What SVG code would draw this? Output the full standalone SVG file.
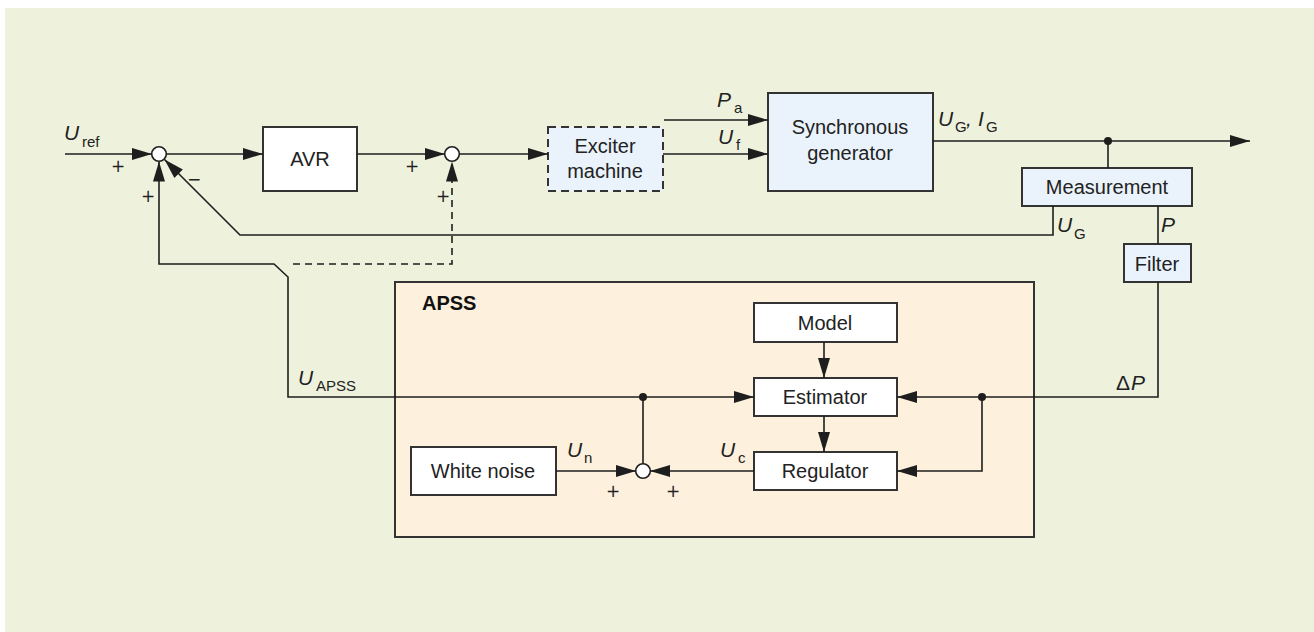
<svg xmlns="http://www.w3.org/2000/svg" width="1314" height="632" viewBox="0 0 1314 632">
  <defs>
    <marker id="arr" markerUnits="userSpaceOnUse" markerWidth="20" markerHeight="12" refX="20" refY="6" orient="auto">
      <path d="M0,0 L20,6 L0,12 z" fill="#1e1e1e"/>
    </marker>
    <style>
      .box { fill: #ffffff; stroke: #333333; stroke-width: 2; }
      .blue { fill: #eaf3fb; }
      .dash { stroke-dasharray: 8 5; }
      .apss { fill: #fdf0dc; stroke: #333333; stroke-width: 2; }
      .wire { fill: none; stroke: #1e1e1e; stroke-width: 1.6; }
      .wd { stroke-dasharray: 7 5; }
      .sum { fill: #ffffff; stroke: #1e1e1e; stroke-width: 1.6; }
      .dot { fill: #1e1e1e; }
      .t { font-family: "Liberation Sans", Arial, sans-serif; font-size: 20px; fill: #222222; text-anchor: middle; }
      .b { font-weight: bold; text-anchor: start; fill: #111111; }
      .v { font-family: "Liberation Sans", Arial, sans-serif; font-size: 21px; font-style: italic; fill: #222222; }
      .s { font-family: "Liberation Sans", Arial, sans-serif; font-size: 15px; fill: #222222; }
      .sg { font-family: "DejaVu Sans", sans-serif; font-size: 17px; fill: #222222; text-anchor: middle; }
    </style>
  </defs>

  <rect x="5" y="8" width="1309" height="624" fill="#eef2dd"/>

  <!-- APSS frame -->
  <g id="apss">
    <rect class="apss" x="395" y="282" width="639" height="255"/>
    <text class="t b" x="422" y="310">APSS</text>
  </g>

  <!-- blocks -->
  <g id="avr">
    <rect class="box" x="263" y="127" width="94" height="64"/>
    <text class="t" x="310" y="166">AVR</text>
  </g>
  <g id="exciter">
    <rect class="box blue dash" x="548" y="127" width="115" height="64"/>
    <text class="t" x="605" y="153">Exciter</text>
    <text class="t" x="605" y="178">machine</text>
  </g>
  <g id="generator">
    <rect class="box blue" x="768" y="93" width="165" height="98"/>
    <text class="t" x="850" y="134">Synchronous</text>
    <text class="t" x="850" y="160">generator</text>
  </g>
  <g id="measurement">
    <rect class="box blue" x="1022" y="168" width="170" height="38"/>
    <text class="t" x="1107" y="194">Measurement</text>
  </g>
  <g id="filter">
    <rect class="box blue" x="1124" y="244" width="67" height="38"/>
    <text class="t" x="1157" y="271">Filter</text>
  </g>
  <g id="model">
    <rect class="box" x="754" y="303" width="143" height="39"/>
    <text class="t" x="825" y="330">Model</text>
  </g>
  <g id="estimator">
    <rect class="box" x="754" y="378" width="143" height="38"/>
    <text class="t" x="825" y="404">Estimator</text>
  </g>
  <g id="regulator">
    <rect class="box" x="754" y="452" width="143" height="38"/>
    <text class="t" x="825" y="478">Regulator</text>
  </g>
  <g id="white-noise">
    <rect class="box" x="411" y="447" width="145" height="48"/>
    <text class="t" x="483" y="478">White noise</text>
  </g>

  <!-- connectors -->
  <g id="connectors">
    <path class="wire" d="M65,154 H152" marker-end="url(#arr)"/>
    <path class="wire" d="M166,154 H263" marker-end="url(#arr)"/>
    <path class="wire" d="M357,154 H445" marker-end="url(#arr)"/>
    <path class="wire" d="M459,154 H548" marker-end="url(#arr)"/>
    <path class="wire" d="M664,120 H768" marker-end="url(#arr)"/>
    <path class="wire" d="M663,154 H768" marker-end="url(#arr)"/>
    <path class="wire" d="M933,141 H1250" marker-end="url(#arr)"/>
    <path class="wire" d="M1108,141 V168"/>
    <path class="wire" d="M1053,206 V235 H240 L164.5,159.5" marker-end="url(#arr)"/>
    <path class="wire" d="M1158,206 V244"/>
    <path class="wire" d="M1158,282 V397 H897" marker-end="url(#arr)"/>
    <path class="wire" d="M982,397 V471 H897" marker-end="url(#arr)"/>
    <path class="wire" d="M643,397 H288 V277 L274,264 H159 V161.5" marker-end="url(#arr)"/>
    <path class="wire wd" d="M293,264 H452 V161.5" marker-end="url(#arr)"/>
    <path class="wire" d="M643,397 H754" marker-end="url(#arr)"/>
    <path class="wire" d="M643,397 V464"/>
    <path class="wire" d="M824,342 V378" marker-end="url(#arr)"/>
    <path class="wire" d="M824,416 V452" marker-end="url(#arr)"/>
    <path class="wire" d="M556,471 H636" marker-end="url(#arr)"/>
    <path class="wire" d="M754,471 H650" marker-end="url(#arr)"/>
    <circle class="dot" cx="1108" cy="141" r="4"/>
    <circle class="dot" cx="982" cy="397" r="4"/>
    <circle class="dot" cx="643" cy="397" r="4"/>
  </g>

  <!-- summing junctions -->
  <g id="sum1"><circle class="sum" cx="159" cy="154" r="7.3"/></g>
  <g id="sum2"><circle class="sum" cx="452" cy="154" r="7.3"/></g>
  <g id="sum3"><circle class="sum" cx="643" cy="471" r="7.3"/></g>

  <!-- signs -->
  <g id="signs">
    <text class="sg" x="118" y="172">+</text>
    <text class="sg" x="148" y="202">+</text>
    <text class="sg" x="194" y="185">−</text>
    <text class="sg" x="412" y="172">+</text>
    <text class="sg" x="443" y="202">+</text>
    <text class="sg" x="613" y="497">+</text>
    <text class="sg" x="673" y="497">+</text>
  </g>

  <!-- signal labels -->
  <g id="labels">
    <text class="v" x="64" y="140">U</text><text class="s" x="82" y="147">ref</text>
    <text class="v" x="717" y="107">P</text><text class="s" x="734" y="113">a</text>
    <text class="v" x="718" y="144">U</text><text class="s" x="736" y="150">f</text>
    <text class="v" x="938" y="126">U</text><text class="s" x="955" y="132">G</text><text class="v" x="966" y="126">,</text>
    <text class="v" x="978" y="126">I</text><text class="s" x="986" y="132">G</text>
    <text class="v" x="1057" y="232">U</text><text class="s" x="1074" y="239">G</text>
    <text class="v" x="1161" y="232">P</text>
    <text class="s" x="1116" y="390" style="font-size:21px">Δ</text><text class="v" x="1131" y="390">P</text>
    <text class="v" x="298" y="385">U</text><text class="s" x="316" y="391">APSS</text>
    <text class="v" x="567" y="457">U</text><text class="s" x="584" y="463">n</text>
    <text class="v" x="720" y="457">U</text><text class="s" x="738" y="463">c</text>
  </g>
</svg>
